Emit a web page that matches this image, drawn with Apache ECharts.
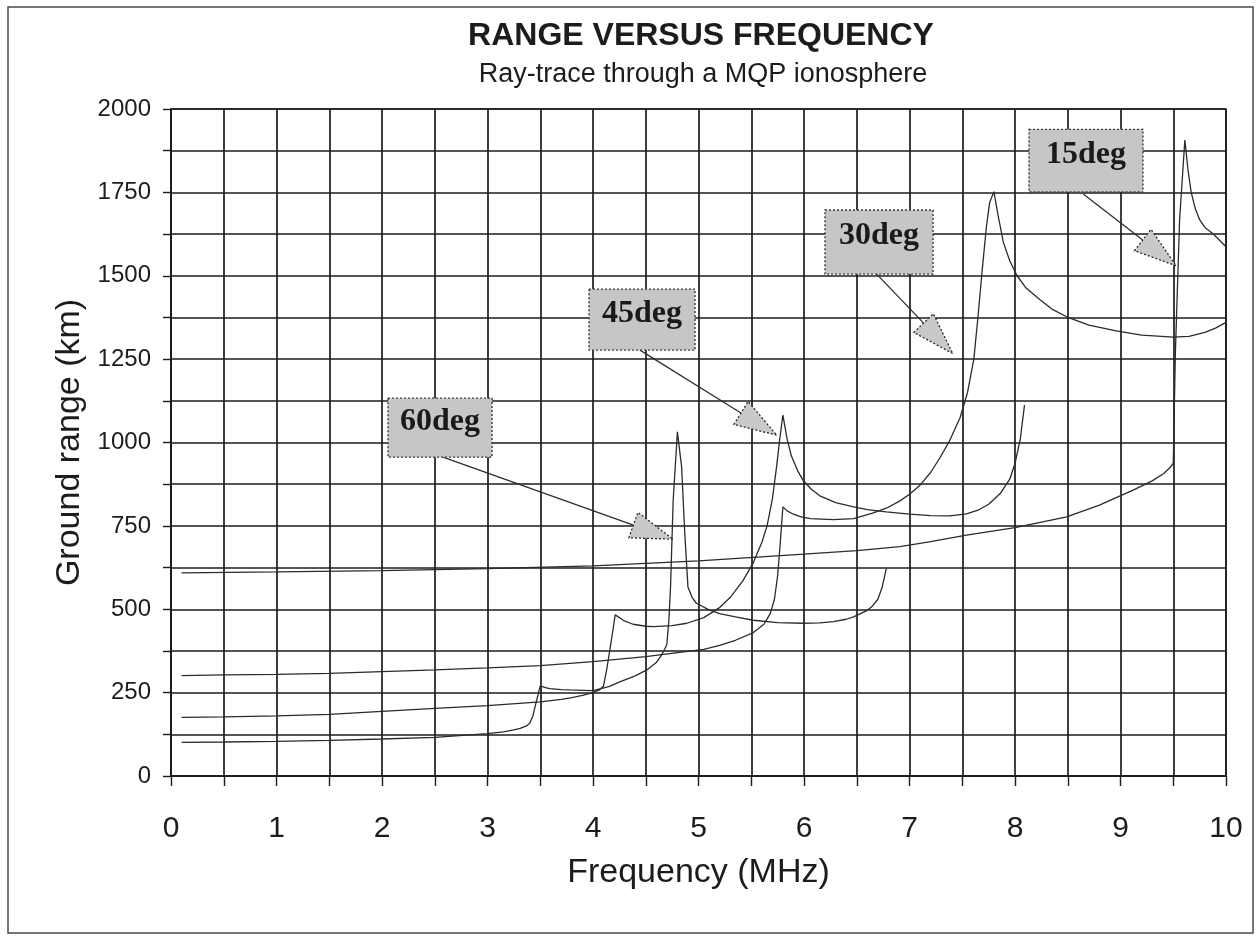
<!DOCTYPE html>
<html>
<head>
<meta charset="utf-8">
<script src="https://cdn.jsdelivr.net/npm/echarts@6/dist/echarts.min.js"></script>
<style>
  html, body { margin: 0; padding: 0; background: #ffffff; }
  #chart { width: 1257px; height: 938px; }
</style>
</head>
<body>
<div id="chart"></div>
<script>
// Ground range (km) versus frequency (MHz), one ray-trace per elevation angle.
const range60 = [
  [0.10, 101], [0.5, 102], [1.0, 104], [1.5, 107], [2.0, 111], [2.5, 116], [3.0, 127],
  [3.15, 132], [3.25, 138], [3.31, 143], [3.37, 150], [3.40, 158], [3.43, 180], [3.46, 220],
  [3.50, 270], [3.55, 265], [3.59, 262], [3.7, 259], [3.78, 258], [3.9, 257], [4.0, 256],
  [4.15, 268], [4.26, 283], [4.4, 300], [4.51, 318], [4.6, 340], [4.64, 358], [4.68, 380],
  [4.70, 395], [4.72, 470], [4.735, 567], [4.76, 827], [4.80, 1032], [4.84, 927], [4.87, 727],
  [4.90, 567], [4.94, 535], [4.98, 518], [5.1, 498], [5.20, 487], [5.35, 477], [5.52, 467],
  [5.75, 460], [5.99, 458], [6.15, 459], [6.28, 463], [6.40, 470], [6.47, 477], [6.59, 495],
  [6.65, 510], [6.70, 530], [6.74, 565], [6.78, 622]
];
const range45 = [
  [0.10, 176], [0.5, 177], [1.0, 180], [1.5, 185], [2.0, 194], [2.5, 203], [3.0, 211],
  [3.5, 222], [3.7, 230], [3.8, 235], [3.9, 242], [4.0, 250], [4.06, 258], [4.10, 270],
  [4.13, 320], [4.16, 378], [4.19, 440], [4.21, 483], [4.25, 475], [4.29, 466], [4.38, 455],
  [4.5, 449], [4.57, 448], [4.75, 451], [4.89, 458], [5.05, 475], [5.2, 505], [5.30, 535],
  [5.42, 585], [5.52, 640], [5.60, 700], [5.65, 750], [5.70, 830], [5.74, 927], [5.77, 1010],
  [5.80, 1082], [5.84, 1010], [5.88, 960], [5.94, 915], [5.99, 887], [6.07, 860], [6.15, 840],
  [6.3, 820], [6.47, 807], [6.6, 799], [6.78, 792], [7.0, 785], [7.2, 781], [7.38, 780],
  [7.54, 786], [7.65, 797], [7.75, 815], [7.86, 847], [7.95, 890], [8.0, 937], [8.05, 1010],
  [8.09, 1112]
];
const range30 = [
  [0.10, 301], [0.5, 303], [1.0, 305], [1.5, 308], [2.0, 313], [2.5, 318], [3.0, 324],
  [3.5, 331], [4.0, 343], [4.5, 358], [5.05, 380], [5.2, 392], [5.35, 407], [5.52, 430],
  [5.62, 455], [5.68, 487], [5.72, 530], [5.75, 600], [5.775, 700], [5.80, 807], [5.84, 795],
  [5.90, 785], [5.98, 776], [6.06, 772], [6.28, 769], [6.47, 772], [6.65, 788], [6.78, 803],
  [6.91, 825], [7.0, 845], [7.10, 872], [7.2, 910], [7.29, 955], [7.38, 1005], [7.48, 1075],
  [7.55, 1150], [7.61, 1250], [7.65, 1380], [7.69, 1520], [7.73, 1650], [7.76, 1720],
  [7.80, 1752], [7.84, 1680], [7.89, 1600], [7.95, 1545], [8.02, 1500], [8.10, 1465],
  [8.24, 1427], [8.35, 1400], [8.49, 1377], [8.7, 1352], [8.96, 1335], [9.2, 1322],
  [9.5, 1316], [9.65, 1318], [9.8, 1330], [9.9, 1343], [10.0, 1360]
];
const range15 = [
  [0.10, 609], [1.0, 612], [2.0, 616], [3.0, 622], [4.0, 630], [5.0, 645], [6.0, 665],
  [6.5, 676], [6.91, 688], [7.2, 703], [7.54, 722], [8.0, 745], [8.49, 777], [8.8, 812],
  [9.12, 857], [9.3, 885], [9.41, 907], [9.47, 925], [9.50, 937], [9.52, 1267], [9.56, 1667],
  [9.61, 1907], [9.64, 1817], [9.67, 1750], [9.71, 1700], [9.75, 1668], [9.8, 1645],
  [9.88, 1625], [10.0, 1587]
];

const seriesNames = ['60deg', '45deg', '30deg', '15deg'];
const seriesData = [range60, range45, range30, range15];

const FONT = '"Liberation Sans", Arial, sans-serif';
const SERIF = '"Liberation Serif", "Times New Roman", serif';
const INK = '#1c1c1c';

const chart = echarts.init(document.getElementById('chart'), null, { renderer: 'canvas' });

chart.setOption({
  backgroundColor: '#ffffff',
  animation: false,
  grid: {
    left: 171, top: 109, width: 1055, height: 667,
    show: true, borderColor: INK, borderWidth: 1.5, backgroundColor: 'transparent'
  },
  xAxis: {
    type: 'value', min: 0, max: 10, interval: 0.5,
    name: 'Frequency (MHz)', nameLocation: 'middle', nameGap: 80,
    nameTextStyle: { fontFamily: FONT, fontSize: 34, color: INK },
    axisLine: { show: true, lineStyle: { color: INK, width: 1.6 } },
    axisTick: { show: true, length: 10, lineStyle: { color: INK, width: 1.4 } },
    axisLabel: {
      margin: 38, fontFamily: FONT, fontSize: 30, color: INK,
      formatter: v => (Math.abs(v - Math.round(v)) < 1e-6 ? String(Math.round(v)) : '')
    },
    splitLine: { show: true, lineStyle: { color: INK, width: 1.7 } }
  },
  yAxis: {
    type: 'value', min: 0, max: 2000, interval: 125,
    name: 'Ground range (km)', nameLocation: 'middle', nameGap: 84, nameRotate: 90,
    nameTextStyle: { fontFamily: FONT, fontSize: 34, color: INK },
    axisLine: { show: true, lineStyle: { color: INK, width: 1.6 } },
    axisTick: { show: true, length: 8, lineStyle: { color: INK, width: 1.4 } },
    axisLabel: {
      margin: 20, fontFamily: FONT, fontSize: 24, color: INK,
      formatter: v => (v % 250 === 0 ? String(v) : '')
    },
    splitLine: { show: true, lineStyle: { color: INK, width: 1.7 } }
  },
  series: seriesData.map((d, i) => ({
    name: seriesNames[i],
    type: 'line',
    data: d,
    showSymbol: false,
    smooth: false,
    lineStyle: { color: '#2b2b2b', width: 1.3 },
    z: 3
  }))
});

// Callout boxes with arrows pointing at each curve (positions in MHz / km).
const callouts = [
  { text: '60deg', box: [2.057, 1133, 3.043, 956], from: [2.578, 956], to: [4.758, 710] },
  { text: '45deg', box: [3.962, 1460, 4.967, 1277], from: [4.445, 1277], to: [5.741, 1022] },
  { text: '30deg', box: [6.199, 1697, 7.223, 1505], from: [6.689, 1505], to: [7.409, 1267] },
  { text: '15deg', box: [8.133, 1939, 9.213, 1751], from: [8.647, 1745], to: [9.526, 1530] }
];

function px(p) { return chart.convertToPixel({ gridIndex: 0 }, p); }

const graphics = [];

// outer frame of the whole figure
graphics.push({
  type: 'rect', z: 50, silent: true,
  shape: { x: 8, y: 7, width: 1245, height: 926 },
  style: { fill: 'none', stroke: '#4a4a4a', lineWidth: 1.5 }
});

// headline and subtitle
graphics.push({
  type: 'text', z: 50, x: 701, y: 36,
  style: { text: 'RANGE VERSUS FREQUENCY', fill: INK, font: 'bold 32px ' + FONT,
           align: 'center', verticalAlign: 'middle' }
});
graphics.push({
  type: 'text', z: 50, x: 703, y: 75,
  style: { text: 'Ray-trace through a MQP ionosphere', fill: INK, font: '27px ' + FONT,
           align: 'center', verticalAlign: 'middle' }
});

callouts.forEach(c => {
  const tl = px([c.box[0], c.box[1]]);
  const br = px([c.box[2], c.box[3]]);
  const a = px(c.from);
  const t = px(c.to);
  const dx = t[0] - a[0], dy = t[1] - a[1];
  const len = Math.hypot(dx, dy);
  const ux = dx / len, uy = dy / len;
  const headLen = 42, headHalf = 13.5;
  const bx = t[0] - ux * headLen, by = t[1] - uy * headLen;

  graphics.push({
    type: 'line', z: 60, silent: true,
    shape: { x1: a[0], y1: a[1], x2: bx, y2: by },
    style: { stroke: '#2e2e2e', lineWidth: 1.3 }
  });
  graphics.push({
    type: 'polygon', z: 61, silent: true,
    shape: { points: [[t[0], t[1]], [bx - uy * headHalf, by + ux * headHalf], [bx + uy * headHalf, by - ux * headHalf]] },
    style: { fill: '#c9c9c9', stroke: '#2a2a2a', lineWidth: 1.3, lineDash: [2, 2] }
  });
  graphics.push({
    type: 'rect', z: 62, silent: true,
    shape: { x: tl[0], y: tl[1], width: br[0] - tl[0], height: br[1] - tl[1] },
    style: { fill: '#c6c6c6', stroke: '#3a3a3a', lineWidth: 1.4, lineDash: [2, 2] }
  });
  graphics.push({
    type: 'text', z: 63, silent: true,
    x: (tl[0] + br[0]) / 2, y: (tl[1] + br[1]) / 2 - 6,
    style: { text: c.text, fill: '#1a1a1a', font: 'bold 32px ' + SERIF,
             align: 'center', verticalAlign: 'middle' }
  });
});

chart.setOption({ graphic: { elements: graphics } });
</script>
</body>
</html>
